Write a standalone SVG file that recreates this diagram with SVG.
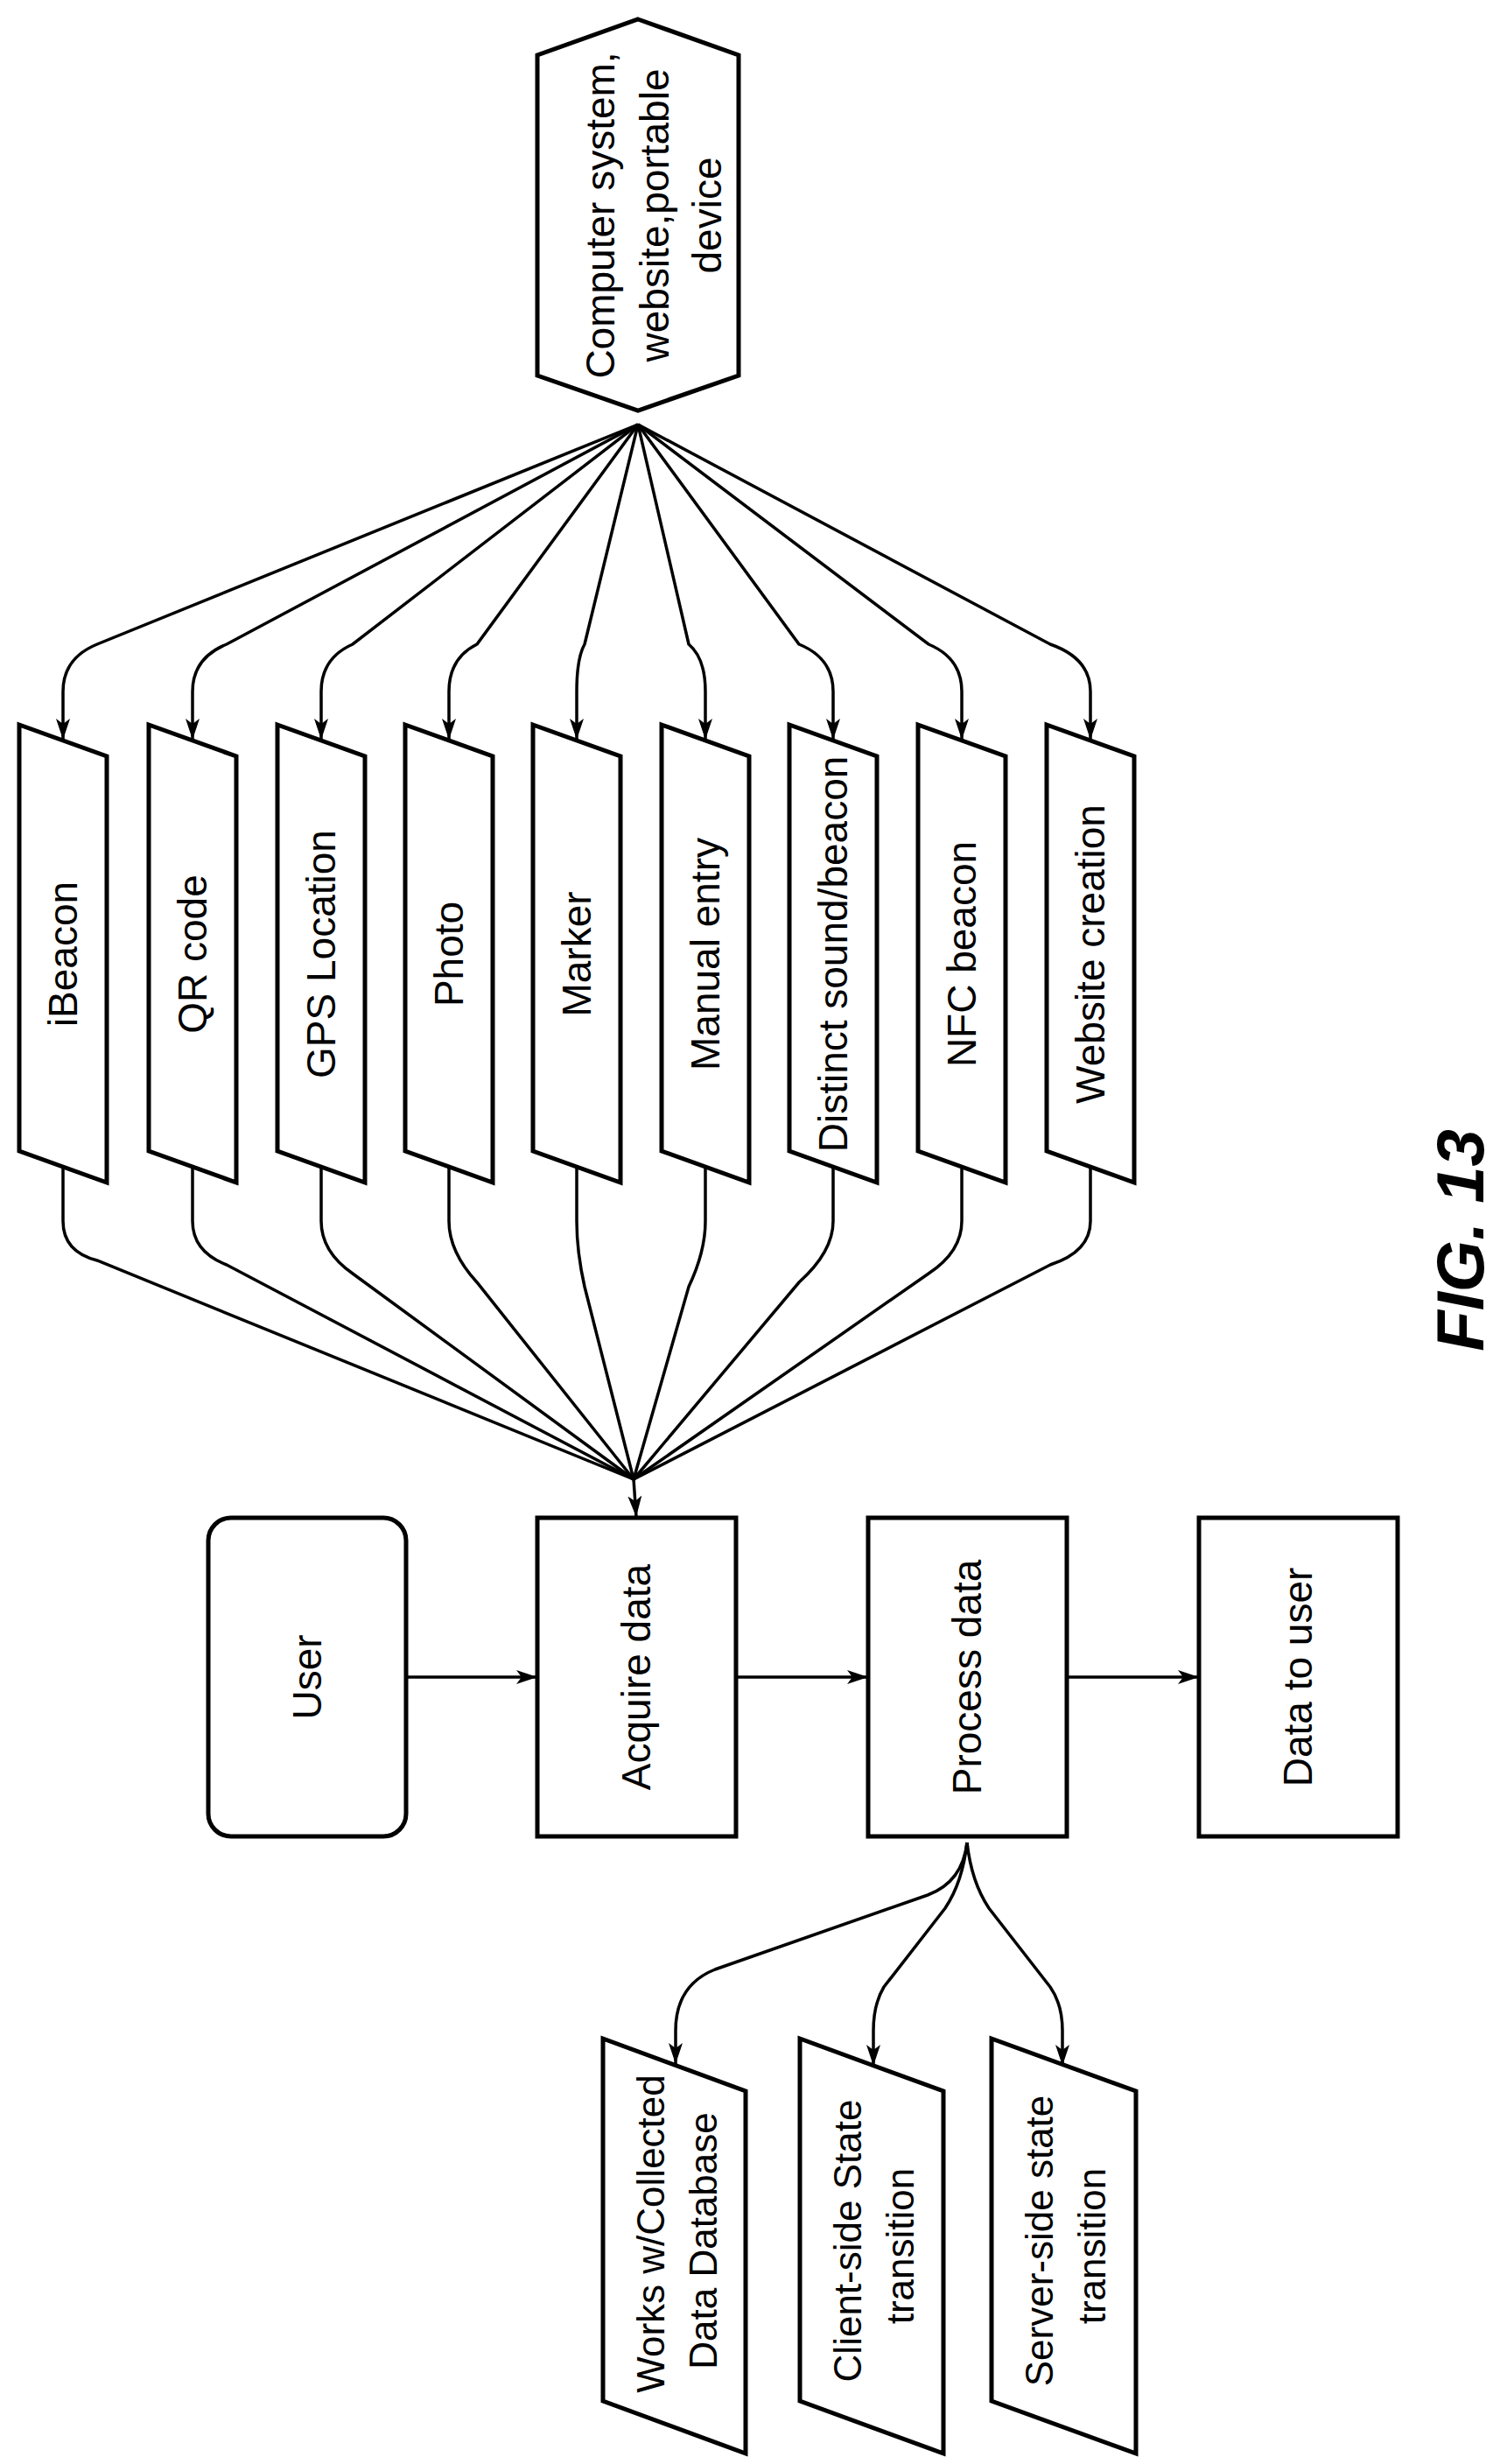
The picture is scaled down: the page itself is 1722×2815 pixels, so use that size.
<svg xmlns="http://www.w3.org/2000/svg" width="1722" height="2815" viewBox="0 0 1722 2815">
<style>
.s{fill:#fff;stroke:#000;stroke-width:5}
.c{fill:none;stroke:#000;stroke-width:3.5}
text{font-family:"Liberation Sans",Arial,sans-serif;font-size:46px;fill:#000}
.sm{font-size:44px}
</style>
<defs>
<marker id="a" viewBox="0 0 24 16" refX="24" refY="8" markerWidth="24" markerHeight="16" markerUnits="userSpaceOnUse" orient="auto"><path d="M0,0 L24,8 L0,16 L6,8 Z" fill="#000"/></marker>
</defs>
<rect width="1722" height="2815" fill="#fff"/>
<g id="connectors">
<path class="c" marker-end="url(#a)" d="M729,485 L111,736 Q72,752 72,790 L72,845"/>
<path class="c" marker-end="url(#a)" d="M729,485 L259,736 Q220,752 220,790 L220,845"/>
<path class="c" marker-end="url(#a)" d="M729,485 L403,736 Q367,752 367,790 L367,845"/>
<path class="c" marker-end="url(#a)" d="M729,485 L545,736 Q513,752 513,790 L513,845"/>
<path class="c" marker-end="url(#a)" d="M729,485 L668,736 Q659,752 659,790 L659,845"/>
<path class="c" marker-end="url(#a)" d="M729,485 L787,736 Q806,752 806,790 L806,845"/>
<path class="c" marker-end="url(#a)" d="M729,485 L913,736 Q952,752 952,790 L952,845"/>
<path class="c" marker-end="url(#a)" d="M729,485 L1061,736 Q1099,752 1099,790 L1099,845"/>
<path class="c" marker-end="url(#a)" d="M729,485 L1200,736 Q1246,752 1246,790 L1246,845"/>
<path class="c" d="M72,1333 L72,1395 Q72,1430 111,1440 L724,1690"/>
<path class="c" d="M220,1333 L220,1395 Q220,1430 259,1445 L724,1690"/>
<path class="c" d="M367,1333 L367,1395 Q367,1430 403,1455 L724,1690"/>
<path class="c" d="M513,1333 L513,1395 Q513,1430 545,1465 L724,1690"/>
<path class="c" d="M659,1333 L659,1395 Q659,1430 668,1470 L724,1690"/>
<path class="c" d="M806,1333 L806,1395 Q806,1430 787,1470 L724,1690"/>
<path class="c" d="M952,1333 L952,1395 Q952,1430 913,1465 L724,1690"/>
<path class="c" d="M1099,1333 L1099,1395 Q1099,1430 1061,1455 L724,1690"/>
<path class="c" d="M1246,1333 L1246,1395 Q1246,1430 1200,1445 L724,1690"/>
<path class="c" marker-end="url(#a)" d="M724,1690 L727,1733"/>
<path class="c" marker-end="url(#a)" d="M464,1916 L614,1916"/>
<path class="c" marker-end="url(#a)" d="M841,1916 L992,1916"/>
<path class="c" marker-end="url(#a)" d="M1219,1916 L1370,1916"/>
<path class="c" marker-end="url(#a)" d="M1105,2105 Q1100,2150 1060,2165 L817,2250 Q772,2268 772,2320 L772,2358"/>
<path class="c" marker-end="url(#a)" d="M1105,2105 Q1100,2150 1080,2180 L1010,2270 Q998,2290 998,2320 L998,2360"/>
<path class="c" marker-end="url(#a)" d="M1105,2105 Q1110,2150 1130,2180 L1200,2270 Q1214,2290 1214,2320 L1214,2360"/>
</g>
<g id="hex"><polygon class="s" points="729,22 844,63 844,429 729,469 614,429 614,63"/>
<text text-anchor="middle" dominant-baseline="central" transform="translate(686,246) rotate(-90)">Computer system,</text>
<text text-anchor="middle" dominant-baseline="central" transform="translate(748,246) rotate(-90)">website,portable</text>
<text text-anchor="middle" dominant-baseline="central" transform="translate(808,246) rotate(-90)">device</text></g>
<g id="n1"><polygon class="s" points="22,828 122,864 122,1351 22,1315"/><text text-anchor="middle" dominant-baseline="central" transform="translate(72,1090) rotate(-90)">iBeacon</text></g>
<g id="n2"><polygon class="s" points="170,828 270,864 270,1351 170,1315"/><text text-anchor="middle" dominant-baseline="central" transform="translate(220,1090) rotate(-90)">QR code</text></g>
<g id="n3"><polygon class="s" points="317,828 417,864 417,1351 317,1315"/><text text-anchor="middle" dominant-baseline="central" transform="translate(367,1090) rotate(-90)">GPS Location</text></g>
<g id="n4"><polygon class="s" points="463,828 563,864 563,1351 463,1315"/><text text-anchor="middle" dominant-baseline="central" transform="translate(513,1090) rotate(-90)">Photo</text></g>
<g id="n5"><polygon class="s" points="609,828 709,864 709,1351 609,1315"/><text text-anchor="middle" dominant-baseline="central" transform="translate(659,1090) rotate(-90)">Marker</text></g>
<g id="n6"><polygon class="s" points="756,828 856,864 856,1351 756,1315"/><text text-anchor="middle" dominant-baseline="central" transform="translate(806,1090) rotate(-90)">Manual entry</text></g>
<g id="n7"><polygon class="s" points="902,828 1002,864 1002,1351 902,1315"/><text text-anchor="middle" dominant-baseline="central" transform="translate(952,1090) rotate(-90)">Distinct sound/beacon</text></g>
<g id="n8"><polygon class="s" points="1049,828 1149,864 1149,1351 1049,1315"/><text text-anchor="middle" dominant-baseline="central" transform="translate(1099,1090) rotate(-90)">NFC beacon</text></g>
<g id="n9"><polygon class="s" points="1196,828 1296,864 1296,1351 1196,1315"/><text text-anchor="middle" dominant-baseline="central" transform="translate(1246,1090) rotate(-90)">Website creation</text></g>
<g id="user"><rect class="s" x="238" y="1734" width="226" height="364" rx="26"/><text text-anchor="middle" dominant-baseline="central" transform="translate(351,1916) rotate(-90)">User</text></g>
<g id="acq"><rect class="s" x="614" y="1734" width="227" height="364"/><text text-anchor="middle" dominant-baseline="central" transform="translate(727,1916) rotate(-90)">Acquire data</text></g>
<g id="proc"><rect class="s" x="992" y="1734" width="227" height="364"/><text text-anchor="middle" dominant-baseline="central" transform="translate(1105,1916) rotate(-90)">Process data</text></g>
<g id="dtu"><rect class="s" x="1370" y="1734" width="227" height="364"/><text text-anchor="middle" dominant-baseline="central" transform="translate(1483,1916) rotate(-90)">Data to user</text></g>
<g id="b1"><polygon class="s" points="689,2329 852,2389 852,2803 689,2743"/>
<text class="sm" text-anchor="middle" dominant-baseline="central" transform="translate(743,2552) rotate(-90)">Works w/Collected</text>
<text class="sm" text-anchor="middle" dominant-baseline="central" transform="translate(803,2560) rotate(-90)">Data Database</text></g>
<g id="b2"><polygon class="s" points="914,2329 1078,2389 1078,2803 914,2743"/>
<text class="sm" text-anchor="middle" dominant-baseline="central" transform="translate(968,2560) rotate(-90)">Client-side State</text>
<text class="sm" text-anchor="middle" dominant-baseline="central" transform="translate(1028,2566) rotate(-90)">transition</text></g>
<g id="b3"><polygon class="s" points="1133,2329 1298,2389 1298,2803 1133,2743"/>
<text class="sm" text-anchor="middle" dominant-baseline="central" transform="translate(1187,2560) rotate(-90)">Server-side state</text>
<text class="sm" text-anchor="middle" dominant-baseline="central" transform="translate(1247,2566) rotate(-90)">transition</text></g>
<text text-anchor="middle" dominant-baseline="central" transform="translate(1668,1417) rotate(-90)" style="font-size:76px;font-weight:bold;font-style:italic">FIG. 13</text>
</svg>
